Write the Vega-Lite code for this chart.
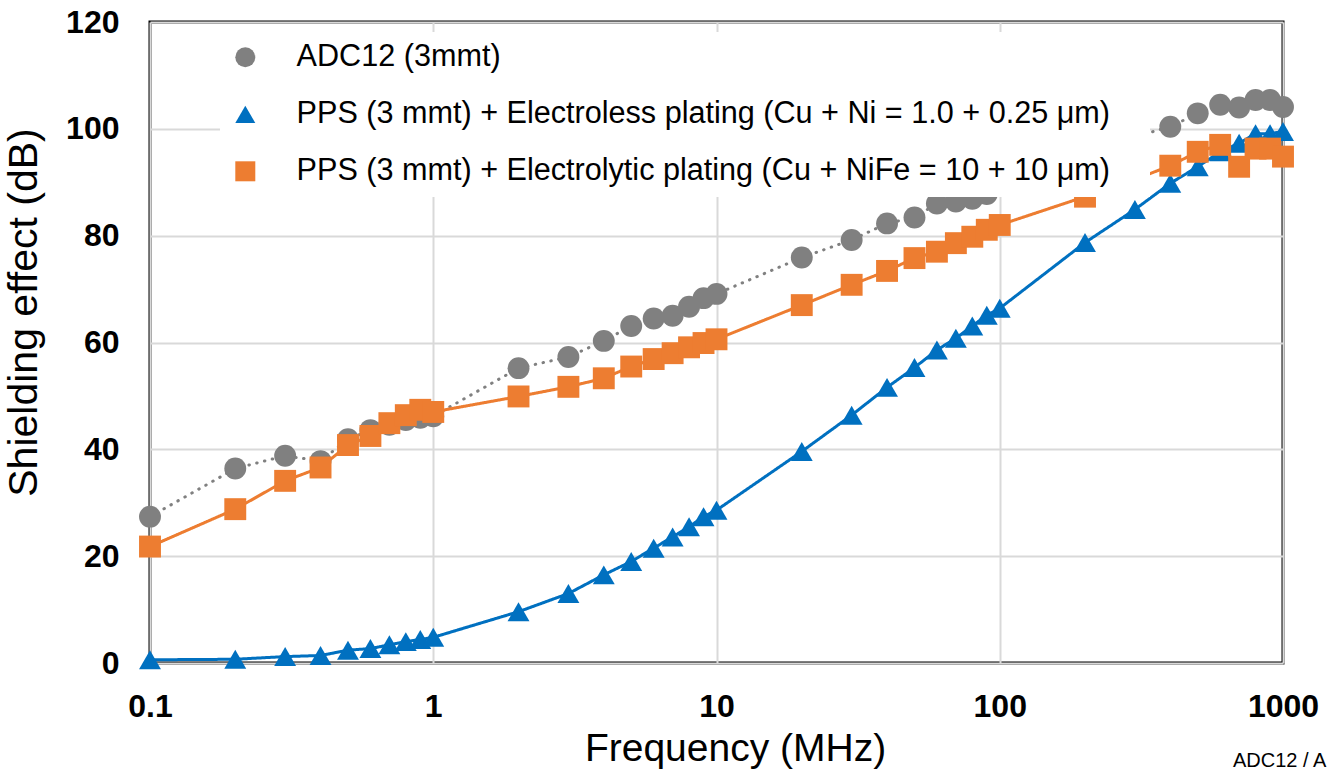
{
  "$schema": "https://vega.github.io/schema/vega-lite/v6.json",
  "width": 1133,
  "height": 641,
  "autosize": {"type": "none"},
  "padding": {"left": 150, "top": 22, "right": 44, "bottom": 113},
  "background": "white",
  "config": {
    "view": {"stroke": "#000000", "strokeWidth": 3},
    "font": "Liberation Sans",
    "legend": {
      "orient": "none",
      "legendX": 70,
      "legendY": 10,
      "fillColor": "white",
      "padding": 10,
      "labelFont": "Liberation Sans",
      "labelFontSize": 30.6,
      "labelColor": "#000000",
      "labelLimit": 0,
      "labelOffset": 36,
      "rowPadding": 26,
      "symbolSize": 400,
      "symbolStrokeWidth": 0,
      "symbolOpacity": 1,
      "titleOrient": "right",
      "titlePadding": 30,
      "titleFontSize": 30,
      "titleFont": "Liberation Sans"
    }
  },
  "title": {
    "text": "ADC12 / A",
    "orient": "bottom",
    "anchor": "end",
    "frame": "group",
    "align": "left",
    "dx": -50,
    "dy": -17,
    "offset": 0,
    "font": "Liberation Sans",
    "fontSize": 20,
    "fontWeight": "normal",
    "color": "#000000"
  },
  "data": {
    "values": [
      {"series": "ADC12 (3mmt)", "f": 0.1, "v": 27.4},
      {"series": "ADC12 (3mmt)", "f": 0.2, "v": 36.4},
      {"series": "ADC12 (3mmt)", "f": 0.3, "v": 38.8},
      {"series": "ADC12 (3mmt)", "f": 0.4, "v": 37.8},
      {"series": "ADC12 (3mmt)", "f": 0.5, "v": 41.9},
      {"series": "ADC12 (3mmt)", "f": 0.6, "v": 43.6},
      {"series": "ADC12 (3mmt)", "f": 0.7, "v": 44.6},
      {"series": "ADC12 (3mmt)", "f": 0.8, "v": 45.5},
      {"series": "ADC12 (3mmt)", "f": 0.9, "v": 45.9},
      {"series": "ADC12 (3mmt)", "f": 1, "v": 46.2},
      {"series": "ADC12 (3mmt)", "f": 2, "v": 55.2},
      {"series": "ADC12 (3mmt)", "f": 3, "v": 57.3},
      {"series": "ADC12 (3mmt)", "f": 4, "v": 60.3},
      {"series": "ADC12 (3mmt)", "f": 5, "v": 63.1},
      {"series": "ADC12 (3mmt)", "f": 6, "v": 64.5},
      {"series": "ADC12 (3mmt)", "f": 7, "v": 65.0},
      {"series": "ADC12 (3mmt)", "f": 8, "v": 66.7},
      {"series": "ADC12 (3mmt)", "f": 9, "v": 68.3},
      {"series": "ADC12 (3mmt)", "f": 10, "v": 69.1},
      {"series": "ADC12 (3mmt)", "f": 20, "v": 75.9},
      {"series": "ADC12 (3mmt)", "f": 30, "v": 79.2},
      {"series": "ADC12 (3mmt)", "f": 40, "v": 82.3},
      {"series": "ADC12 (3mmt)", "f": 50, "v": 83.4},
      {"series": "ADC12 (3mmt)", "f": 60, "v": 86.0},
      {"series": "ADC12 (3mmt)", "f": 70, "v": 86.4},
      {"series": "ADC12 (3mmt)", "f": 80, "v": 86.9},
      {"series": "ADC12 (3mmt)", "f": 90, "v": 87.8},
      {"series": "ADC12 (3mmt)", "f": 100, "v": 89.5},
      {"series": "ADC12 (3mmt)", "f": 200, "v": 95.5},
      {"series": "ADC12 (3mmt)", "f": 300, "v": 98.5},
      {"series": "ADC12 (3mmt)", "f": 400, "v": 100.4},
      {"series": "ADC12 (3mmt)", "f": 500, "v": 102.9},
      {"series": "ADC12 (3mmt)", "f": 600, "v": 104.5},
      {"series": "ADC12 (3mmt)", "f": 700, "v": 104.0},
      {"series": "ADC12 (3mmt)", "f": 800, "v": 105.4},
      {"series": "ADC12 (3mmt)", "f": 900, "v": 105.4},
      {"series": "ADC12 (3mmt)", "f": 1000, "v": 104.1},

      {"series": "PPS (3 mmt) + Electroless plating (Cu + Ni = 1.0 + 0.25 μm)", "f": 0.1, "v": 0.6},
      {"series": "PPS (3 mmt) + Electroless plating (Cu + Ni = 1.0 + 0.25 μm)", "f": 0.2, "v": 0.7},
      {"series": "PPS (3 mmt) + Electroless plating (Cu + Ni = 1.0 + 0.25 μm)", "f": 0.3, "v": 1.2},
      {"series": "PPS (3 mmt) + Electroless plating (Cu + Ni = 1.0 + 0.25 μm)", "f": 0.4, "v": 1.4},
      {"series": "PPS (3 mmt) + Electroless plating (Cu + Ni = 1.0 + 0.25 μm)", "f": 0.5, "v": 2.4},
      {"series": "PPS (3 mmt) + Electroless plating (Cu + Ni = 1.0 + 0.25 μm)", "f": 0.6, "v": 2.7},
      {"series": "PPS (3 mmt) + Electroless plating (Cu + Ni = 1.0 + 0.25 μm)", "f": 0.7, "v": 3.4},
      {"series": "PPS (3 mmt) + Electroless plating (Cu + Ni = 1.0 + 0.25 μm)", "f": 0.8, "v": 4.0},
      {"series": "PPS (3 mmt) + Electroless plating (Cu + Ni = 1.0 + 0.25 μm)", "f": 0.9, "v": 4.4},
      {"series": "PPS (3 mmt) + Electroless plating (Cu + Ni = 1.0 + 0.25 μm)", "f": 1, "v": 4.8},
      {"series": "PPS (3 mmt) + Electroless plating (Cu + Ni = 1.0 + 0.25 μm)", "f": 2, "v": 9.6},
      {"series": "PPS (3 mmt) + Electroless plating (Cu + Ni = 1.0 + 0.25 μm)", "f": 3, "v": 13.0},
      {"series": "PPS (3 mmt) + Electroless plating (Cu + Ni = 1.0 + 0.25 μm)", "f": 4, "v": 16.5},
      {"series": "PPS (3 mmt) + Electroless plating (Cu + Ni = 1.0 + 0.25 μm)", "f": 5, "v": 19.0},
      {"series": "PPS (3 mmt) + Electroless plating (Cu + Ni = 1.0 + 0.25 μm)", "f": 6, "v": 21.5},
      {"series": "PPS (3 mmt) + Electroless plating (Cu + Ni = 1.0 + 0.25 μm)", "f": 7, "v": 23.6},
      {"series": "PPS (3 mmt) + Electroless plating (Cu + Ni = 1.0 + 0.25 μm)", "f": 8, "v": 25.5},
      {"series": "PPS (3 mmt) + Electroless plating (Cu + Ni = 1.0 + 0.25 μm)", "f": 9, "v": 27.4},
      {"series": "PPS (3 mmt) + Electroless plating (Cu + Ni = 1.0 + 0.25 μm)", "f": 10, "v": 28.6},
      {"series": "PPS (3 mmt) + Electroless plating (Cu + Ni = 1.0 + 0.25 μm)", "f": 20, "v": 39.6},
      {"series": "PPS (3 mmt) + Electroless plating (Cu + Ni = 1.0 + 0.25 μm)", "f": 30, "v": 46.4},
      {"series": "PPS (3 mmt) + Electroless plating (Cu + Ni = 1.0 + 0.25 μm)", "f": 40, "v": 51.6},
      {"series": "PPS (3 mmt) + Electroless plating (Cu + Ni = 1.0 + 0.25 μm)", "f": 50, "v": 55.3},
      {"series": "PPS (3 mmt) + Electroless plating (Cu + Ni = 1.0 + 0.25 μm)", "f": 60, "v": 58.6},
      {"series": "PPS (3 mmt) + Electroless plating (Cu + Ni = 1.0 + 0.25 μm)", "f": 70, "v": 60.8},
      {"series": "PPS (3 mmt) + Electroless plating (Cu + Ni = 1.0 + 0.25 μm)", "f": 80, "v": 63.1},
      {"series": "PPS (3 mmt) + Electroless plating (Cu + Ni = 1.0 + 0.25 μm)", "f": 90, "v": 65.1},
      {"series": "PPS (3 mmt) + Electroless plating (Cu + Ni = 1.0 + 0.25 μm)", "f": 100, "v": 66.4},
      {"series": "PPS (3 mmt) + Electroless plating (Cu + Ni = 1.0 + 0.25 μm)", "f": 200, "v": 78.7},
      {"series": "PPS (3 mmt) + Electroless plating (Cu + Ni = 1.0 + 0.25 μm)", "f": 300, "v": 84.9},
      {"series": "PPS (3 mmt) + Electroless plating (Cu + Ni = 1.0 + 0.25 μm)", "f": 400, "v": 89.8},
      {"series": "PPS (3 mmt) + Electroless plating (Cu + Ni = 1.0 + 0.25 μm)", "f": 500, "v": 92.9},
      {"series": "PPS (3 mmt) + Electroless plating (Cu + Ni = 1.0 + 0.25 μm)", "f": 600, "v": 95.7},
      {"series": "PPS (3 mmt) + Electroless plating (Cu + Ni = 1.0 + 0.25 μm)", "f": 700, "v": 97.3},
      {"series": "PPS (3 mmt) + Electroless plating (Cu + Ni = 1.0 + 0.25 μm)", "f": 800, "v": 99.1},
      {"series": "PPS (3 mmt) + Electroless plating (Cu + Ni = 1.0 + 0.25 μm)", "f": 900, "v": 99.1},
      {"series": "PPS (3 mmt) + Electroless plating (Cu + Ni = 1.0 + 0.25 μm)", "f": 1000, "v": 99.5},

      {"series": "PPS (3 mmt) + Electrolytic plating (Cu + NiFe = 10 + 10 μm)", "f": 0.1, "v": 21.8},
      {"series": "PPS (3 mmt) + Electrolytic plating (Cu + NiFe = 10 + 10 μm)", "f": 0.2, "v": 28.8},
      {"series": "PPS (3 mmt) + Electrolytic plating (Cu + NiFe = 10 + 10 μm)", "f": 0.3, "v": 34.1},
      {"series": "PPS (3 mmt) + Electrolytic plating (Cu + NiFe = 10 + 10 μm)", "f": 0.4, "v": 36.6},
      {"series": "PPS (3 mmt) + Electrolytic plating (Cu + NiFe = 10 + 10 μm)", "f": 0.5, "v": 40.8},
      {"series": "PPS (3 mmt) + Electrolytic plating (Cu + NiFe = 10 + 10 μm)", "f": 0.6, "v": 42.5},
      {"series": "PPS (3 mmt) + Electrolytic plating (Cu + NiFe = 10 + 10 μm)", "f": 0.7, "v": 44.9},
      {"series": "PPS (3 mmt) + Electrolytic plating (Cu + NiFe = 10 + 10 μm)", "f": 0.8, "v": 46.4},
      {"series": "PPS (3 mmt) + Electrolytic plating (Cu + NiFe = 10 + 10 μm)", "f": 0.9, "v": 47.4},
      {"series": "PPS (3 mmt) + Electrolytic plating (Cu + NiFe = 10 + 10 μm)", "f": 1, "v": 47.0},
      {"series": "PPS (3 mmt) + Electrolytic plating (Cu + NiFe = 10 + 10 μm)", "f": 2, "v": 49.9},
      {"series": "PPS (3 mmt) + Electrolytic plating (Cu + NiFe = 10 + 10 μm)", "f": 3, "v": 51.7},
      {"series": "PPS (3 mmt) + Electrolytic plating (Cu + NiFe = 10 + 10 μm)", "f": 4, "v": 53.3},
      {"series": "PPS (3 mmt) + Electrolytic plating (Cu + NiFe = 10 + 10 μm)", "f": 5, "v": 55.5},
      {"series": "PPS (3 mmt) + Electrolytic plating (Cu + NiFe = 10 + 10 μm)", "f": 6, "v": 56.9},
      {"series": "PPS (3 mmt) + Electrolytic plating (Cu + NiFe = 10 + 10 μm)", "f": 7, "v": 58.0},
      {"series": "PPS (3 mmt) + Electrolytic plating (Cu + NiFe = 10 + 10 μm)", "f": 8, "v": 59.1},
      {"series": "PPS (3 mmt) + Electrolytic plating (Cu + NiFe = 10 + 10 μm)", "f": 9, "v": 59.9},
      {"series": "PPS (3 mmt) + Electrolytic plating (Cu + NiFe = 10 + 10 μm)", "f": 10, "v": 60.6},
      {"series": "PPS (3 mmt) + Electrolytic plating (Cu + NiFe = 10 + 10 μm)", "f": 20, "v": 67.0},
      {"series": "PPS (3 mmt) + Electrolytic plating (Cu + NiFe = 10 + 10 μm)", "f": 30, "v": 70.8},
      {"series": "PPS (3 mmt) + Electrolytic plating (Cu + NiFe = 10 + 10 μm)", "f": 40, "v": 73.4},
      {"series": "PPS (3 mmt) + Electrolytic plating (Cu + NiFe = 10 + 10 μm)", "f": 50, "v": 75.8},
      {"series": "PPS (3 mmt) + Electrolytic plating (Cu + NiFe = 10 + 10 μm)", "f": 60, "v": 77.0},
      {"series": "PPS (3 mmt) + Electrolytic plating (Cu + NiFe = 10 + 10 μm)", "f": 70, "v": 78.6},
      {"series": "PPS (3 mmt) + Electrolytic plating (Cu + NiFe = 10 + 10 μm)", "f": 80, "v": 79.8},
      {"series": "PPS (3 mmt) + Electrolytic plating (Cu + NiFe = 10 + 10 μm)", "f": 90, "v": 81.1},
      {"series": "PPS (3 mmt) + Electrolytic plating (Cu + NiFe = 10 + 10 μm)", "f": 100, "v": 82.0},
      {"series": "PPS (3 mmt) + Electrolytic plating (Cu + NiFe = 10 + 10 μm)", "f": 200, "v": 87.3},
      {"series": "PPS (3 mmt) + Electrolytic plating (Cu + NiFe = 10 + 10 μm)", "f": 300, "v": 90.5},
      {"series": "PPS (3 mmt) + Electrolytic plating (Cu + NiFe = 10 + 10 μm)", "f": 400, "v": 93.1},
      {"series": "PPS (3 mmt) + Electrolytic plating (Cu + NiFe = 10 + 10 μm)", "f": 500, "v": 95.7},
      {"series": "PPS (3 mmt) + Electrolytic plating (Cu + NiFe = 10 + 10 μm)", "f": 600, "v": 97.0},
      {"series": "PPS (3 mmt) + Electrolytic plating (Cu + NiFe = 10 + 10 μm)", "f": 700, "v": 92.9},
      {"series": "PPS (3 mmt) + Electrolytic plating (Cu + NiFe = 10 + 10 μm)", "f": 800, "v": 96.3},
      {"series": "PPS (3 mmt) + Electrolytic plating (Cu + NiFe = 10 + 10 μm)", "f": 900, "v": 96.3},
      {"series": "PPS (3 mmt) + Electrolytic plating (Cu + NiFe = 10 + 10 μm)", "f": 1000, "v": 94.8}
    ]
  },
  "encoding": {
    "x": {
      "field": "f",
      "type": "quantitative",
      "scale": {"type": "log", "domain": [0.1, 1000]},
      "axis": {
        "values": [0.1, 1, 10, 100, 1000],
        "format": ".1~f",
        "title": "Frequency (MHz)",
        "grid": true,
        "gridColor": "#d9d9d9",
        "gridWidth": 2,
        "domain": false,
        "ticks": false,
        "tickSize": 0,
        "labelFont": "Liberation Sans",
        "labelFontSize": 32,
        "labelFontWeight": "bold",
        "labelColor": "#000000",
        "labelPadding": 28,
        "labelFlush": false,
        "labelOverlap": false,
        "titleFont": "Liberation Sans",
        "titleFontSize": 39,
        "titleFontWeight": "normal",
        "titleColor": "#000000",
        "titleX": 585,
        "titleY": 97,
        "titleBaseline": "alphabetic",
        "titleAlign": "center"
      }
    },
    "y": {
      "field": "v",
      "type": "quantitative",
      "scale": {"domain": [0, 120]},
      "axis": {
        "values": [0, 20, 40, 60, 80, 100, 120],
        "title": "Shielding effect (dB)",
        "grid": true,
        "gridColor": "#d9d9d9",
        "gridWidth": 2,
        "domain": false,
        "ticks": false,
        "tickSize": 0,
        "labelFont": "Liberation Sans",
        "labelFontSize": 32,
        "labelFontWeight": "bold",
        "labelColor": "#000000",
        "labelPadding": 31,
        "labelFlush": false,
        "labelOverlap": false,
        "titleFont": "Liberation Sans",
        "titleFontSize": 41,
        "titleFontWeight": "normal",
        "titleColor": "#000000",
        "titleAngle": 270,
        "titleX": -114,
        "titleY": 290,
        "titleBaseline": "alphabetic",
        "titleAlign": "center"
      }
    },
    "color": {
      "field": "series",
      "type": "nominal",
      "scale": {
        "domain": ["ADC12 (3mmt)", "PPS (3 mmt) + Electroless plating (Cu + Ni = 1.0 + 0.25 μm)", "PPS (3 mmt) + Electrolytic plating (Cu + NiFe = 10 + 10 μm)"],
        "range": ["#808080", "#0070c0", "#ed7d31"]
      },
      "legend": {"title": "\u00a0"}
    }
  },
  "layer": [
    {
      "mark": {"type": "line", "strokeWidth": 3, "strokeCap": "round"},
      "encoding": {
        "strokeDash": {
          "field": "series",
          "type": "nominal",
          "scale": {
            "domain": ["ADC12 (3mmt)", "PPS (3 mmt) + Electroless plating (Cu + Ni = 1.0 + 0.25 μm)", "PPS (3 mmt) + Electrolytic plating (Cu + NiFe = 10 + 10 μm)"],
            "range": [[0.5, 7.5], [1, 0], [1, 0]]
          },
          "legend": null
        }
      }
    },
    {
      "mark": {"type": "point", "filled": true, "size": 480, "opacity": 1},
      "encoding": {
        "shape": {
          "field": "series",
          "type": "nominal",
          "scale": {
            "domain": ["ADC12 (3mmt)", "PPS (3 mmt) + Electroless plating (Cu + Ni = 1.0 + 0.25 μm)", "PPS (3 mmt) + Electrolytic plating (Cu + NiFe = 10 + 10 μm)"],
            "range": ["circle", "triangle-up", "square"]
          },
          "legend": {"title": "\u00a0"}
        }
      }
    }
  ]
}
